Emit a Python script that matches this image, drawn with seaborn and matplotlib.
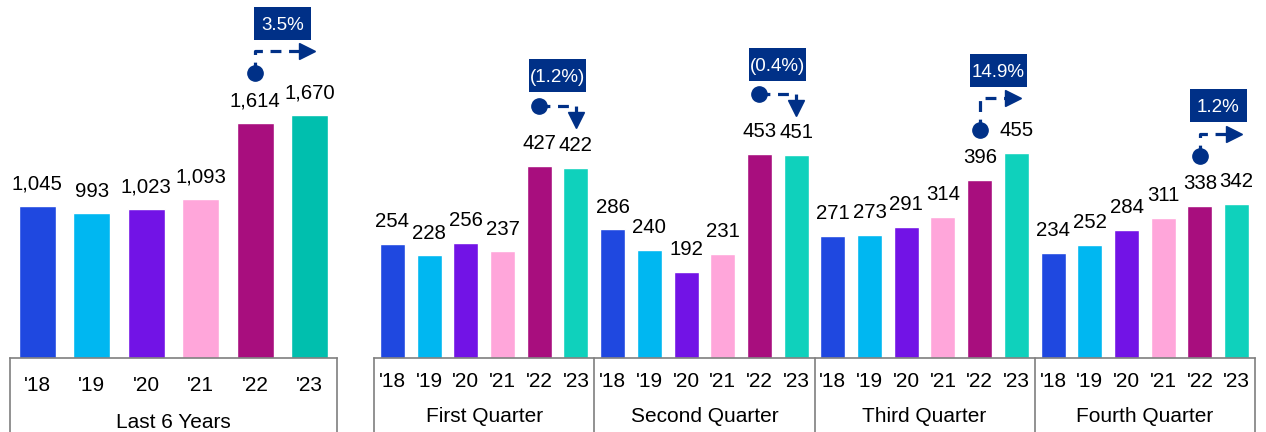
import numpy as np
import pandas as pd
import matplotlib
matplotlib.use("Agg")
import matplotlib.pyplot as plt
import seaborn as sns
from matplotlib.transforms import blended_transform_factory
from matplotlib.patches import Rectangle

# ---------------- data ----------------
years = ["'18", "'19", "'20", "'21", "'22", "'23"]
annual = [1045, 993, 1023, 1093, 1614, 1670]
annual_label = "Last 6 Years"
annual_change = 3.5

quarters = ["First Quarter", "Second Quarter", "Third Quarter", "Fourth Quarter"]
q1 = [254, 228, 256, 237, 427, 422]
q2 = [286, 240, 192, 231, 453, 451]
q3 = [271, 273, 291, 314, 396, 455]
q4 = [234, 252, 284, 311, 338, 342]
quarter_change = [-1.2, -0.4, 14.9, 1.2]

pal_left = ["#1F48E0", "#00B7F1", "#7213E6", "#FFA6DA", "#A80E7E", "#00BFAE"]
pal_right = ["#1F48E0", "#00B7F1", "#7213E6", "#FFA6DA", "#A80E7E", "#0FD1BC"]
NAVY = "#003087"
GRID = "#7f7f7f"

sns.set_theme(style="white")
plt.rcParams["font.family"] = ["Liberation Sans", "DejaVu Sans"]

W, H = 1266, 432
fig = plt.figure(figsize=(W / 100, H / 100), dpi=100)
axL = fig.add_axes([10 / W, 74 / H, 327 / W, 358 / H])
axR = fig.add_axes([374 / W, 74 / H, 881 / W, 358 / H])

# ---------------- bars ----------------
dfL = pd.DataFrame({"year": years, "value": annual})
sns.barplot(data=dfL, x="year", y="value", hue="year", order=years, hue_order=years,
            palette=pal_left, width=0.68, saturation=1, legend=False, ax=axL)

qvals = [q1, q2, q3, q4]
rows = []
for q, vals in zip(quarters, qvals):
    for y, v in zip(years, vals):
        rows.append({"slot": f"{q}|{y}", "year": y, "value": v})
dfR = pd.DataFrame(rows)
slots = list(dfR["slot"])
sns.barplot(data=dfR, x="slot", y="value", hue="year", order=slots, hue_order=years,
            palette=pal_right, width=0.68, saturation=1, dodge=False, legend=False, ax=axR)

axL.set_xlim(-0.5, len(years) - 0.5)
axL.set_ylim(0, 2460)
axR.set_xlim(-0.5, len(slots) - 0.5)
axR.set_ylim(0, 795)

for ax in (axL, axR):
    ax.set_xlabel("")
    ax.set_ylabel("")
    ax.set_yticks([])
    for s in ("top", "left", "right"):
        ax.spines[s].set_visible(False)
    ax.spines["bottom"].set_color(GRID)
    ax.spines["bottom"].set_linewidth(1.2)

axL.set_xticks(range(len(years)), years)
axL.tick_params(axis="x", length=0, pad=13, labelsize=15, labelcolor="#000000")
axR.set_xticks(range(len(slots)), years * len(quarters))
axR.tick_params(axis="x", length=0, pad=10, labelsize=15, labelcolor="#000000")

# value labels
for i, v in enumerate(annual):
    axL.annotate(f"{v:,}", (i, v), xytext=(0, 12), textcoords="offset points",
                 ha="center", va="baseline", fontsize=14.7, color="#000000")
for i, v in enumerate(dfR["value"]):
    axR.annotate(f"{v:,}", (i, v), xytext=(0, 12), textcoords="offset points",
                 ha="center", va="baseline", fontsize=14.7, color="#000000")

# box separators & group labels
def separators(ax, xs):
    tr = blended_transform_factory(ax.transData, ax.transAxes)
    for x in xs:
        ax.plot([x, x], [0, -0.4], transform=tr, clip_on=False, color=GRID, lw=1.2)

separators(axL, [-0.5, len(years) - 0.5])
separators(axR, [-0.5 + 6 * k for k in range(len(quarters) + 1)])

axL.annotate(annual_label, ((len(years) - 1) / 2, 0), xycoords=("data", "axes fraction"),
             xytext=(0, -50.5), textcoords="offset points", ha="center", va="baseline",
             fontsize=15, color="#000000")
for k, q in enumerate(quarters):
    axR.annotate(q, (6 * k + 2.5, 0), xycoords=("data", "axes fraction"),
                 xytext=(0, -46), textcoords="offset points", ha="center", va="baseline",
                 fontsize=15, color="#000000")

# change markers
def fmt(p):
    return f"{p:.1f}%" if p >= 0 else f"({abs(p):.1f}%)"

def change_marker(ax, x22, x23, v22, v23, pct):
    o = ax.transData.transform((0, 0))
    ppx = ax.transData.transform((1, 0))[0] - o[0]
    ppy = ax.transData.transform((0, 1))[1] - o[1]
    dx = lambda p: p / ppx
    dy = lambda p: p / ppy
    ls = dict(color=NAVY, lw=2.3, linestyle=(0, (3.4, 2.4)), solid_capstyle="butt",
              dash_capstyle="butt")
    if pct >= 0:
        yc = v22 + dy(50)
        yl = max(yc + dy(22), v23 + dy(55))
        xt = x23 + dx(5)
        ax.plot([x22, x22, xt - dx(15)], [yc, yl, yl], **ls)
        ax.plot([xt - dx(8)], [yl], marker=">", ms=11.5, color=NAVY, mec=NAVY, ls="none")
        yb = yl + dy(28)
    else:
        yc = v22 + dy(60)
        ax.plot([x22, x23, x23], [yc, yc, yc - dy(8)], **ls)
        ax.plot([x23], [yc - dy(22) + dy(8)], marker="v", ms=11.5, color=NAVY, mec=NAVY,
                ls="none")
        yb = yc + dy(30)
    ax.plot([x22], [yc], marker="o", ms=11, color=NAVY, mec=NAVY, ls="none")
    xm = (x22 + x23) / 2
    ax.add_patch(Rectangle((xm - dx(28.5), yb - dy(16.5)), dx(57), dy(33),
                           facecolor=NAVY, edgecolor="none", clip_on=False))
    ax.text(xm, yb, fmt(pct), ha="center", va="center_baseline", color="white",
            fontsize=13.5)

change_marker(axL, 4, 5, annual[4], annual[5], annual_change)
for k, (vals, pct) in enumerate(zip(qvals, quarter_change)):
    change_marker(axR, 6 * k + 4, 6 * k + 5, vals[4], vals[5], pct)

fig.savefig("out.png", dpi=100)
